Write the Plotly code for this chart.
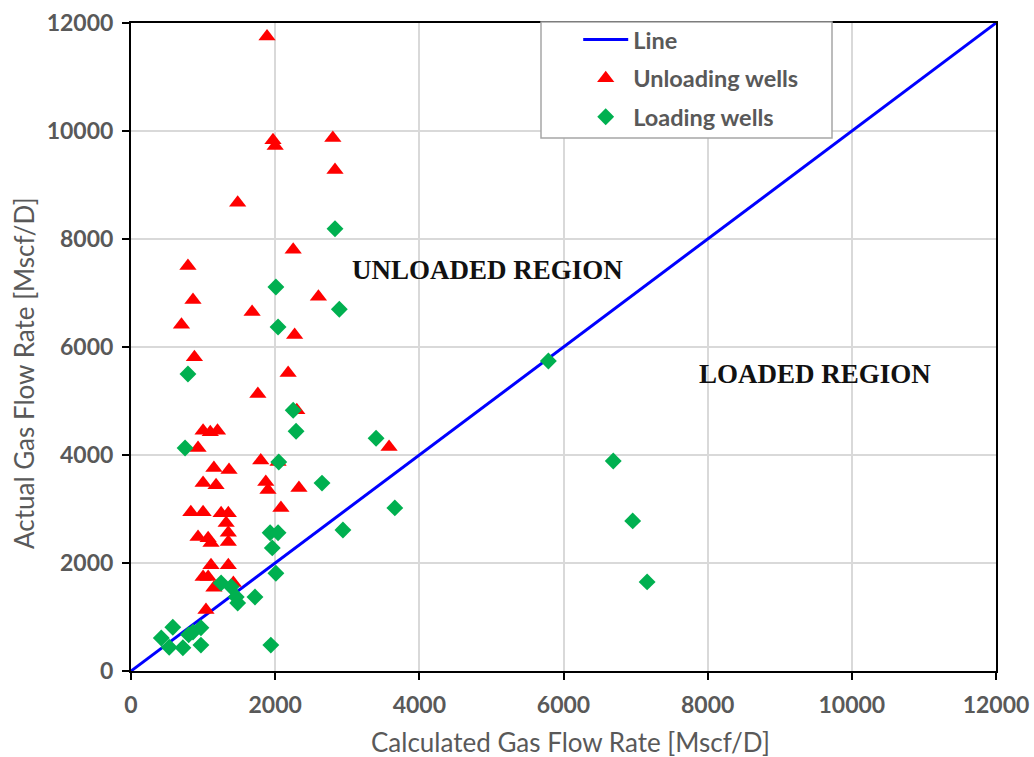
import plotly.graph_objects as go

line_x = [0, 12000]
line_y = [0, 12000]

unload_x = [1887, 1970, 2000, 2800, 2830, 1480, 790, 2250, 860, 700, 1680, 2600, 2270, 880,
            2180, 1760, 2300, 3580, 1000, 1100, 1200, 930, 1800, 2040, 1150, 1360, 1000, 1180,
            1870, 1900, 2330, 2080, 830, 1000, 1250, 1350, 1320, 1350, 1350, 930, 1070, 1110,
            1110, 1350, 1000, 1070, 1150, 1420, 1040]
unload_y = [11750, 9830, 9720, 9870, 9280, 8670, 7500, 7800, 6870, 6410, 6650, 6930, 6220, 5810,
            5520, 5130, 4830, 4150, 4450, 4420, 4450, 4130, 3900, 3870, 3760, 3720, 3480, 3440,
            3500, 3350, 3390, 3020, 2940, 2940, 2920, 2920, 2740, 2560, 2390, 2480, 2460, 2370,
            1960, 1960, 1740, 1740, 1540, 1630, 1130]

load_x = [2830, 2010, 2890, 2040, 5790, 790, 2250, 2290, 3400, 750, 2050, 2650, 3660, 2940,
          6690, 6960, 7160, 1930, 2040, 1960, 2010, 1720, 1940, 1250, 1390, 1460, 1480, 580,
          420, 530, 720, 860, 970, 970, 800]
load_y = [8190, 7110, 6700, 6370, 5740, 5500, 4830, 4440, 4310, 4130, 3870, 3480, 3020, 2610,
          3890, 2780, 1650, 2560, 2560, 2280, 1810, 1370, 480, 1630, 1560, 1370, 1260, 810,
          610, 440, 430, 720, 800, 480, 670]

tick_vals = [0, 2000, 4000, 6000, 8000, 10000, 12000]
tick_text = ["0", "2000", "4000", "6000", "8000", "10000", "12000"]

x_title = "Calculated Gas Flow Rate [Mscf/D]"
y_title = "Actual Gas Flow Rate [Mscf/D]"

fig = go.Figure()
fig.add_trace(go.Scatter(x=line_x, y=line_y, mode="lines", name="Line",
                         line=dict(color="#0000FF", width=3), legendgroup="a"))
fig.add_trace(go.Scatter(x=unload_x, y=unload_y, mode="markers", name="Unloading wells",
                         marker=dict(symbol="triangle-up", color="#FF0000", size=15),
                         legendgroup="b"))
fig.add_trace(go.Scatter(x=load_x, y=load_y, mode="markers", name="Loading wells",
                         marker=dict(symbol="diamond", color="#00B050", size=13),
                         legendgroup="c"))

axis_common = dict(
    range=[0, 12000], tickvals=tick_vals, ticktext=tick_text, automargin=False,
    showgrid=True, gridcolor="#D9D9D9", gridwidth=1.5,
    showline=True, linecolor="black", linewidth=2, mirror=True,
    ticks="outside", ticklen=7, tickwidth=2, tickcolor="black",
    tickfont=dict(family="Lato", size=23, color="#595959", weight="bold"),
    zeroline=False,
)

title_font = dict(family="Lato", size=26, color="#595959")

fig.update_layout(
    width=1034, height=757,
    margin=dict(l=131, r=38, t=23, b=86),
    paper_bgcolor="white", plot_bgcolor="white",
    xaxis=dict(**axis_common, ticklabelstandoff=5),
    yaxis=dict(**axis_common, ticklabelstandoff=4),
    legend=dict(x=0.517, y=1.008, xanchor="left", yanchor="top",
                bgcolor="rgba(255,255,255,0)", borderwidth=0,
                font=dict(family="Lato", size=23.5, color="#595959", weight="bold"),
                tracegroupgap=5, itemwidth=45),
    showlegend=True,
    annotations=[
        dict(x=4940, y=7430, xref="x", yref="y", text="<b>UNLOADED REGION</b>", showarrow=False,
             font=dict(family="Liberation Serif", size=27, color="#111111")),
        dict(x=9490, y=5500, xref="x", yref="y", text="<b>LOADED REGION</b>", showarrow=False,
             font=dict(family="Liberation Serif", size=27, color="#111111")),
        dict(x=(570 - 131) / 865, y=(671 - 742) / 648, xref="paper", yref="paper",
             text=x_title, showarrow=False, font=title_font,
             xanchor="center", yanchor="middle"),
        dict(x=(24 - 131) / 865, y=(671 - 373) / 648, xref="paper", yref="paper",
             text=y_title, showarrow=False, font=title_font, textangle=-90,
             xanchor="center", yanchor="middle"),
    ],
    shapes=[
        dict(type="rect", xref="paper", yref="paper",
             x0=(541 - 131) / 865, x1=(832 - 131) / 865,
             y0=(671 - 138) / 648, y1=(671 - 22) / 648,
             line=dict(color="#A6A6A6", width=1.5), fillcolor="white", layer="above"),
    ],
)

fig.write_html("out.html")
